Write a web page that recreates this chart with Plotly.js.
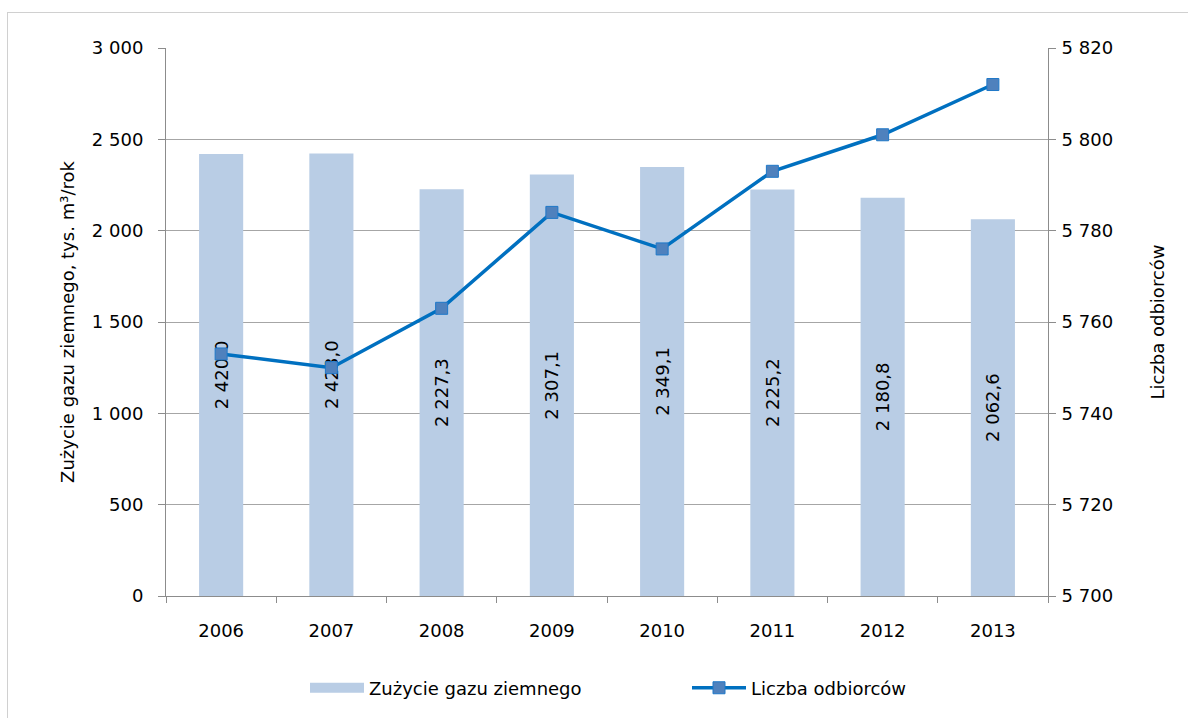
<!DOCTYPE html>
<html>
<head>
<meta charset="utf-8">
<script src="https://cdn.plot.ly/plotly-3.0.1.min.js"></script>
<style>
  body { margin: 0; background: #fff; }
  #wrap { position: relative; width: 1188px; height: 718px; }
  #chart { width: 1188px; height: 718px; }
  #frame { position: absolute; left: 7px; top: 12px; width: 1200px; height: 720px;
           border-left: 1px solid #d0d0d0; border-top: 1px solid #d0d0d0; pointer-events: none; }
</style>
</head>
<body>
<div id="wrap">
  <div id="chart"></div>
  <div id="frame"></div>
</div>
<script>
const years = ['2006', '2007', '2008', '2009', '2010', '2011', '2012', '2013'];
const gasUse = [2420.0, 2423.0, 2227.3, 2307.1, 2349.1, 2225.2, 2180.8, 2062.6];
const customers = [5753, 5750, 5763, 5784, 5776, 5793, 5801, 5812];
const seriesNames = ['Zużycie gazu ziemnego', 'Liczba odbiorców'];

const fontFam = 'DejaVu Sans, Verdana, sans-serif';
const barColor = '#b9cde5';

const barTrace = {
  type: 'bar',
  name: seriesNames[0],
  legendgroup: 'gas',
  showlegend: false,
  x: years,
  y: gasUse,
  marker: { color: barColor },
  texttemplate: '%{y:,.1f}',
  textposition: 'inside',
  insidetextanchor: 'middle',
  textangle: -90,
  constraintext: 'none',
  textfont: { family: fontFam, size: 18, color: '#000000' },
  hoverinfo: 'none'
};

// legend entry for the bar series (wide swatch like the original)
const barLegend = {
  type: 'scatter',
  mode: 'lines',
  name: seriesNames[0],
  legendgroup: 'gas',
  x: [null],
  y: [null],
  line: { color: barColor, width: 12 },
  hoverinfo: 'none'
};

const lineTrace = {
  type: 'scatter',
  mode: 'lines+markers',
  name: seriesNames[1],
  x: years,
  y: customers,
  yaxis: 'y2',
  line: { color: '#0070c0', width: 3.5 },
  marker: { symbol: 'square', size: 12, color: '#4f81bd', line: { color: '#1f78c8', width: 1 } },
  hoverinfo: 'none'
};

const layout = {
  width: 1188,
  height: 718,
  margin: { l: 166, r: 140, t: 48, b: 118 },
  paper_bgcolor: '#ffffff',
  plot_bgcolor: '#ffffff',
  separators: ', ',
  font: { family: fontFam, size: 18, color: '#000000' },
  bargap: 0.6,
  showlegend: true,
  legend: {
    orientation: 'h',
    x: 0.1576, xanchor: 'left',
    y: -0.168, yanchor: 'middle',
    font: { family: fontFam, size: 18, color: '#000000' },
    entrywidthmode: 'pixels',
    entrywidth: 313,
    itemwidth: 54,
    traceorder: 'normal'
  },
  xaxis: {
    type: 'category',
    showgrid: false,
    showline: true,
    linecolor: '#8c8c8c',
    linewidth: 1,
    ticks: 'outside',
    tickson: 'boundaries',
    ticklen: 6,
    tickcolor: '#8c8c8c',
    ticklabelstandoff: 18,
    tickfont: { family: fontFam, size: 18, color: '#000000' },
    zeroline: false
  },
  yaxis: {
    range: [0, 3000],
    dtick: 500,
    tickformat: ',d',
    showgrid: true,
    gridcolor: '#a6a6a6',
    gridwidth: 1,
    showline: true,
    linecolor: '#8c8c8c',
    ticks: 'outside',
    ticklen: 7,
    tickcolor: '#8c8c8c',
    ticklabelstandoff: 11,
    zeroline: false,
    tickfont: { family: fontFam, size: 18, color: '#000000' },
    title: { text: 'Zużycie gazu ziemnego, tys. m³/rok', font: { family: fontFam, size: 18, color: '#000000' }, standoff: 12 }
  },
  yaxis2: {
    overlaying: 'y',
    side: 'right',
    range: [5700, 5820],
    dtick: 20,
    tickformat: ',d',
    showgrid: false,
    showline: true,
    linecolor: '#8c8c8c',
    ticks: 'outside',
    ticklen: 7,
    tickcolor: '#8c8c8c',
    ticklabelstandoff: 2,
    zeroline: false,
    tickfont: { family: fontFam, size: 18, color: '#000000' },
    title: { text: 'Liczba odbiorców', font: { family: fontFam, size: 18, color: '#000000' }, standoff: 39 }
  }
};

Plotly.newPlot('chart', [barTrace, barLegend, lineTrace], layout, { displayModeBar: false, staticPlot: true });
</script>
</body>
</html>
